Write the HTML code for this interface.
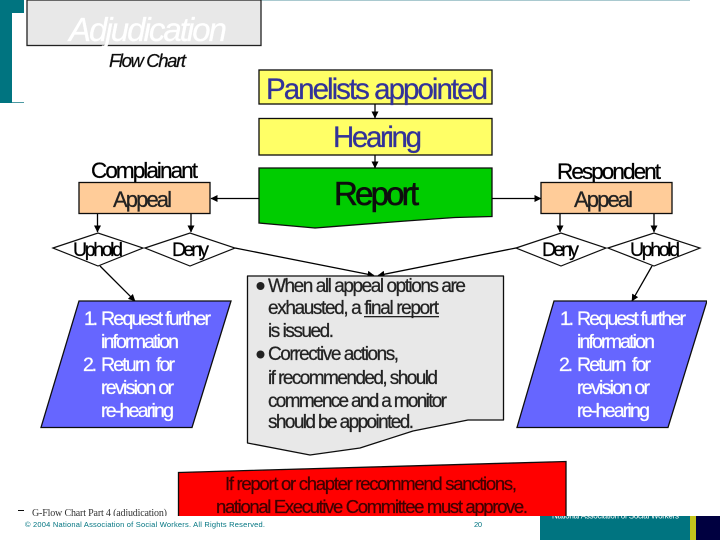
<!DOCTYPE html>
<html><head><meta charset="utf-8"><style>
html,body{margin:0;padding:0;background:#fff;width:720px;height:540px;overflow:hidden}
svg{display:block}
text{font-family:"Liberation Sans",sans-serif}
.t{stroke-width:.25px;paint-order:stroke}
</style></head><body>
<svg width="720" height="540" viewBox="0 0 720 540" xmlns="http://www.w3.org/2000/svg">
<defs>
<marker id="a" markerWidth="7" markerHeight="7" refX="6.5" refY="3.500" orient="auto" markerUnits="userSpaceOnUse"><path d="M0 0L7 3.500L0 7z" fill="#000"/></marker>
<clipPath id="c1"><rect x="0" y="0" width="720" height="516"/></clipPath>
<clipPath id="c2"><rect x="540" y="516" width="150" height="24"/></clipPath>
<filter id="b" x="0" y="0" width="100%" height="100%"><feGaussianBlur stdDeviation="0.35"/></filter>
</defs>
<rect x="260" y="0" width="430" height="1" fill="#a9c9cf"/>
<path d="M0 0H24V13H12V103H0z" fill="#007480"/>
<rect x="12" y="102" width="12" height="1" fill="#4d9aa3"/>
<g clip-path="url(#c1)">
<g filter="url(#b)">
<rect x="27" y="0" width="234" height="45.500" fill="#e8e8e8" stroke="#222" stroke-width="1.300"/>
<text x="69" y="41" font-size="33" font-style="italic" fill="#fff" stroke="#fff" class="t" textLength="158" lengthAdjust="spacing">Adjudication</text>
<text x="109" y="67" font-size="18.500" font-style="italic" fill="#111" stroke="#111" class="t" textLength="77" lengthAdjust="spacing">Flow Chart</text>

<rect x="259" y="70" width="233" height="34" fill="#ffff66" stroke="#111" stroke-width="1.300"/>
<text x="266" y="99" font-size="29.500" fill="#333399" stroke="#333399" class="t" textLength="222" lengthAdjust="spacing">Panelists appointed</text>
<rect x="259" y="118.500" width="233" height="36.500" fill="#ffff66" stroke="#111" stroke-width="1.300"/>
<text x="333" y="147" font-size="29.500" fill="#333399" stroke="#333399" class="t" textLength="89" lengthAdjust="spacing">Hearing</text>
<path d="M259 168H492V216.500L455 217.500Q390 222 315 228L259 223z" fill="#00cc00" stroke="#111" stroke-width="1.300"/>
<text x="334" y="205" font-size="33" fill="#111" stroke="#111" style="stroke-width:.6px" textLength="85" lengthAdjust="spacing">Report</text>
<line x1="375" y1="104" x2="375" y2="118" stroke="#000" stroke-width="1.300" marker-end="url(#a)"/>
<line x1="375" y1="155" x2="375" y2="168" stroke="#000" stroke-width="1.300" marker-end="url(#a)"/>

<text x="91" y="178" font-size="22.500" fill="#000" stroke="#000" class="t" textLength="107" lengthAdjust="spacing">Complainant</text>
<rect x="79" y="182.500" width="131" height="31" fill="#ffcc99" stroke="#111" stroke-width="1.300"/>
<text x="113" y="207" font-size="22" fill="#222" stroke="#222" class="t" textLength="59" lengthAdjust="spacing">Appeal</text>
<text x="557" y="179" font-size="22.500" fill="#000" stroke="#000" class="t" textLength="104" lengthAdjust="spacing">Respondent</text>
<rect x="541" y="182.500" width="131" height="31" fill="#ffcc99" stroke="#111" stroke-width="1.300"/>
<text x="574" y="207" font-size="22" fill="#222" stroke="#222" class="t" textLength="59" lengthAdjust="spacing">Appeal</text>
<line x1="259" y1="198.500" x2="211" y2="198.500" stroke="#000" stroke-width="1.300" marker-end="url(#a)"/>
<line x1="492" y1="198.500" x2="541" y2="198.500" stroke="#000" stroke-width="1.300" marker-end="url(#a)"/>

<g stroke="#000" stroke-width="1.300" marker-end="url(#a)">
<line x1="97.500" y1="214" x2="97.500" y2="232"/>
<line x1="191" y1="214" x2="191" y2="232"/>
<line x1="560" y1="214" x2="560" y2="232"/>
<line x1="654" y1="214" x2="654" y2="232"/>
</g>
<g fill="#fff" stroke="#111" stroke-width="1.200">
<path d="M53 248L98 233L143 248L98 266z"/>
<path d="M145 248L190 233L235 248L190 266z"/>
<path d="M516 248L561 233L606 248L561 266z"/>
<path d="M608 248L654 233L700 248L654 266z"/>
</g>
<text x="73" y="256" font-size="19.500" fill="#000" stroke="#000" class="t" textLength="50" lengthAdjust="spacing">Uphold</text>
<text x="172" y="256" font-size="19.500" fill="#000" stroke="#000" class="t" textLength="37" lengthAdjust="spacing">Deny</text>
<text x="542" y="256" font-size="19.500" fill="#000" stroke="#000" class="t" textLength="37" lengthAdjust="spacing">Deny</text>
<text x="630" y="256" font-size="19.500" fill="#000" stroke="#000" class="t" textLength="50" lengthAdjust="spacing">Uphold</text>

<line x1="235" y1="248" x2="374" y2="275.500" stroke="#000" stroke-width="1.300" marker-end="url(#a)"/>
<line x1="516" y1="248" x2="378" y2="275.500" stroke="#000" stroke-width="1.300" marker-end="url(#a)"/>
<line x1="100" y1="266" x2="135" y2="301" stroke="#000" stroke-width="1.300" marker-end="url(#a)"/>
<line x1="652" y1="266" x2="632" y2="301" stroke="#000" stroke-width="1.300" marker-end="url(#a)"/>

<path d="M79 301H231L192 427.500H41z" fill="#6666ff" stroke="#111" stroke-width="1.300"/>
<path d="M554 301H707L668 427.500H517z" fill="#6666ff" stroke="#111" stroke-width="1.300"/>
<g font-size="19.500" fill="#fff" stroke="#fff" class="t">
<text x="84" y="325" textLength="14">1.</text>
<text x="101" y="325" textLength="110" lengthAdjust="spacing">Request further</text>
<text x="101" y="348" textLength="78" lengthAdjust="spacing">information</text>
<text x="83" y="371" textLength="14">2.</text>
<text x="101" y="371" textLength="74" lengthAdjust="spacing" xml:space="preserve">Return  for</text>
<text x="101" y="394" textLength="73" lengthAdjust="spacing">revision or</text>
<text x="101" y="417" textLength="73" lengthAdjust="spacing">re-hearing</text>
<text x="560" y="325" textLength="14">1.</text>
<text x="577" y="325" textLength="109" lengthAdjust="spacing">Request further</text>
<text x="577" y="348" textLength="78" lengthAdjust="spacing">information</text>
<text x="559" y="371" textLength="14">2.</text>
<text x="577" y="371" textLength="74" lengthAdjust="spacing" xml:space="preserve">Return  for</text>
<text x="577" y="394" textLength="73" lengthAdjust="spacing">revision or</text>
<text x="577" y="417" textLength="73" lengthAdjust="spacing">re-hearing</text>
</g>

<path d="M247.500 276H503.500V420H468L413 431L360 448L310 455L247.500 443z" fill="#e8e8e8" stroke="#111" stroke-width="1.300" stroke-linejoin="round"/>
<g font-size="19" fill="#222" stroke="#222" class="t">
<text x="268" y="292" textLength="198" lengthAdjust="spacing">When all appeal options are</text>
<text x="268" y="314" textLength="171" lengthAdjust="spacing">exhausted, a final report</text>
<text x="268" y="337" textLength="66" lengthAdjust="spacing">is issued.</text>
<text x="268" y="360" textLength="131" lengthAdjust="spacing">Corrective actions,</text>
<text x="268" y="384" textLength="170" lengthAdjust="spacing">if recommended, should</text>
<text x="268" y="407" textLength="179" lengthAdjust="spacing">commence and a monitor</text>
<text x="268" y="428" textLength="146" lengthAdjust="spacing">should be appointed.</text>
</g>
<rect x="364" y="316" width="75" height="1.300" fill="#222"/>
<circle cx="260.500" cy="286" r="4" fill="#222"/>
<circle cx="260.500" cy="354.500" r="4" fill="#222"/>

<path d="M178.500 472.500L566 461.500V530H178.500z" fill="#ff0000" stroke="#111" stroke-width="1.300"/>
<text x="225" y="490" font-size="18.500" fill="#400000" stroke="#400000" class="t" textLength="292" lengthAdjust="spacing">If report or chapter recommend sanctions,</text>
<text x="216" y="513" font-size="18.500" fill="#400000" stroke="#400000" class="t" textLength="312" lengthAdjust="spacing">national Executive Committee must approve.</text>

<rect x="18" y="510" width="6" height="1" fill="#111"/>
<text x="32" y="516" font-size="10" fill="#333" style="font-family:'Liberation Serif',serif" textLength="135" lengthAdjust="spacing">G-Flow Chart Part 4 (adjudication)</text>
</g>
</g>
<rect x="0" y="516" width="720" height="24" fill="#fff"/>
<rect x="540" y="516" width="150" height="24" fill="#007480"/>
<rect x="690" y="516" width="6" height="24" fill="#c4c41c"/>
<rect x="696" y="516" width="24" height="24" fill="#000040"/>
<text x="552" y="518.500" font-size="8" fill="#fff" clip-path="url(#c2)" textLength="127" lengthAdjust="spacing">National Association of Social Workers</text>
<text x="25" y="527" font-size="7.500" fill="#007480" textLength="240" lengthAdjust="spacing">© 2004 National Association of Social Workers. All Rights Reserved.</text>
<text x="474" y="527" font-size="7.500" fill="#007480" textLength="8" lengthAdjust="spacing">20</text>
</svg>
</body></html>
